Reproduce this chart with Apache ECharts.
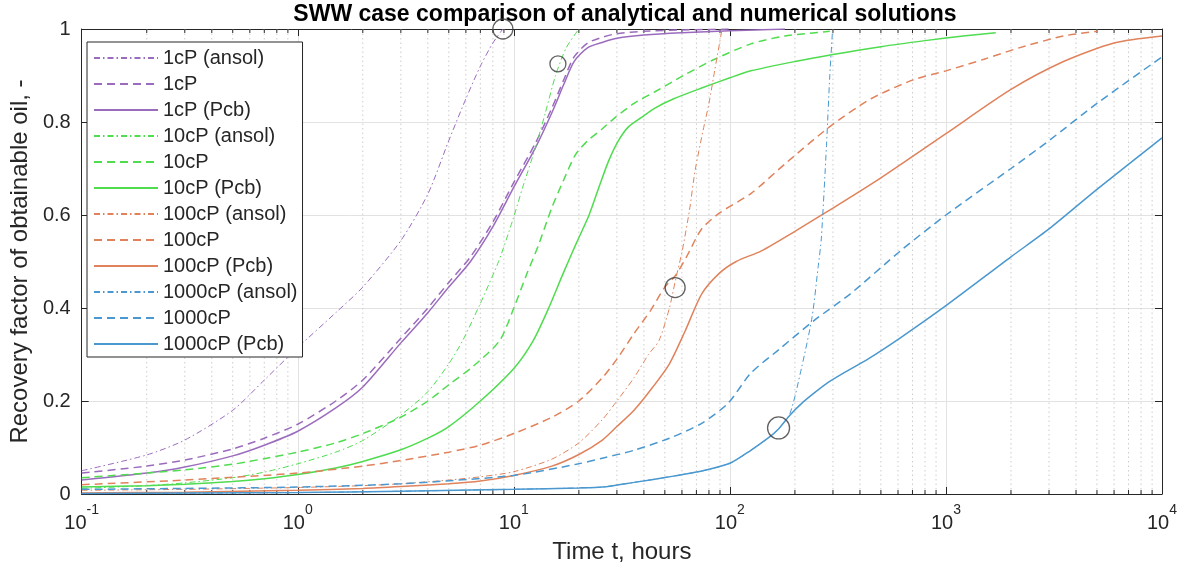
<!DOCTYPE html>
<html><head><meta charset="utf-8">
<script src="https://cdn.jsdelivr.net/npm/echarts@6/dist/echarts.min.js"></script>
<style>html,body{margin:0;padding:0;background:#fff}#c{width:1187px;height:571px}</style>
</head><body><div id="c"></div>
<script>
// ---- data (time in hours, recovery factor) ----
const t_1cP_ansol = [0.1, 0.2, 0.3, 0.5, 0.7, 1, 1.5, 2, 3, 4, 5, 6, 7, 8, 8.9];
const v_1cP_ansol = [0.05, 0.084, 0.116, 0.18, 0.245, 0.315, 0.39, 0.445, 0.545, 0.645, 0.76, 0.85, 0.92, 0.97, 1.0];
const t_1cP = [0.1, 0.2, 0.3, 0.5, 0.7, 1, 1.5, 2, 3, 4, 5, 6.3, 8, 10, 12.6, 15, 17, 19, 22, 26, 30, 40, 60, 100];
const v_1cP = [0.045, 0.06, 0.073, 0.097, 0.12, 0.15, 0.2, 0.245, 0.335, 0.4, 0.455, 0.51, 0.585, 0.67, 0.755, 0.83, 0.89, 0.94, 0.97, 0.983, 0.99, 0.995, 0.998, 1.0];
const t_1cP_Pcb = [0.1, 0.2, 0.3, 0.5, 0.7, 1, 1.5, 2, 3, 4, 5, 6.3, 8, 10, 12.6, 15, 17, 19, 22, 26, 30, 40, 60, 100, 180];
const v_1cP_Pcb = [0.03, 0.045, 0.058, 0.082, 0.105, 0.135, 0.185, 0.23, 0.325, 0.39, 0.445, 0.5, 0.575, 0.66, 0.745, 0.82, 0.88, 0.93, 0.96, 0.972, 0.98, 0.987, 0.992, 0.996, 1.0];

const t_10cP_ansol = [0.1, 0.2, 0.3, 0.5, 0.7, 1, 1.5, 2, 3, 4, 5, 5.8, 7, 8.5, 9.9, 11, 12.6, 14, 15.6, 17.5, 20];
const v_10cP_ansol = [0.012, 0.018, 0.024, 0.035, 0.047, 0.065, 0.09, 0.115, 0.17, 0.22, 0.28, 0.33, 0.41, 0.5, 0.59, 0.66, 0.745, 0.82, 0.9, 0.96, 1.0];
const t_10cP = [0.1, 0.2, 0.3, 0.5, 0.7, 1, 1.5, 2, 3, 4, 5, 6.5, 8.6, 10, 11.5, 13, 15, 17, 19.3, 22, 25.6, 29.5, 36, 45, 61, 85, 125, 180, 290];
const v_10cP = [0.035, 0.045, 0.052, 0.064, 0.076, 0.09, 0.11, 0.13, 0.165, 0.2, 0.235, 0.275, 0.33, 0.4, 0.474, 0.535, 0.616, 0.675, 0.73, 0.76, 0.785, 0.81, 0.84, 0.865, 0.9, 0.935, 0.968, 0.985, 0.995];
const t_10cP_Pcb = [0.1, 0.2, 0.3, 0.5, 0.7, 1, 1.5, 2, 3, 4, 5, 7, 10, 12.3, 14.5, 16.9, 19.5, 22.3, 25, 27.5, 30.5, 34, 39, 45, 55, 74, 100, 125, 200, 300, 500, 800, 1200, 1700];
const v_10cP_Pcb = [0.015, 0.018, 0.021, 0.027, 0.033, 0.042, 0.056, 0.07, 0.095, 0.12, 0.145, 0.2, 0.27, 0.33, 0.4, 0.474, 0.54, 0.6, 0.665, 0.717, 0.76, 0.79, 0.81, 0.83, 0.85, 0.873, 0.895, 0.91, 0.93, 0.945, 0.962, 0.975, 0.985, 0.992];

const t_100cP_ansol = [0.1, 0.3, 1, 2, 3, 5, 7, 10, 15, 20, 25.7, 30, 36, 42, 47, 52.5, 56, 60, 65, 69, 75, 80, 85, 90, 92];
const v_100cP_ansol = [0.008, 0.01, 0.014, 0.018, 0.022, 0.03, 0.037, 0.048, 0.075, 0.11, 0.16, 0.2, 0.25, 0.3, 0.33, 0.4, 0.46, 0.52, 0.61, 0.695, 0.78, 0.84, 0.91, 0.975, 1.0];
const t_100cP = [0.1, 0.3, 1, 2, 3, 5, 7, 10, 15, 20, 25.7, 30, 36, 43, 50, 56, 63, 74, 90, 125, 180, 290, 450, 700, 1000, 1500, 2200, 3500, 5000];
const v_100cP = [0.02, 0.03, 0.045, 0.06, 0.072, 0.09, 0.105, 0.13, 0.165, 0.2, 0.25, 0.29, 0.345, 0.395, 0.445, 0.47, 0.51, 0.57, 0.605, 0.646, 0.71, 0.79, 0.85, 0.89, 0.91, 0.935, 0.96, 0.985, 0.995];
const t_100cP_Pcb = [0.1, 0.3, 1, 2, 3, 5, 7, 10, 15, 20, 25.7, 30, 36, 44, 52.5, 62, 74, 89, 107, 140, 200, 300, 500, 1000, 2000, 3500, 6000, 10000];
const v_100cP_Pcb = [0.002, 0.004, 0.008, 0.012, 0.016, 0.022, 0.028, 0.04, 0.06, 0.085, 0.116, 0.145, 0.18, 0.23, 0.28, 0.35, 0.43, 0.474, 0.5, 0.523, 0.565, 0.615, 0.68, 0.775, 0.87, 0.93, 0.97, 0.985];

const t_1000cP_ansol = [0.1, 1, 3, 10, 20, 25.7, 36, 52.5, 75, 100, 125, 150, 168, 190, 215, 240, 256, 265, 280, 290, 298];
const v_1000cP_ansol = [0.001, 0.003, 0.006, 0.01, 0.013, 0.015, 0.025, 0.037, 0.05, 0.066, 0.094, 0.12, 0.14, 0.174, 0.273, 0.38, 0.487, 0.55, 0.75, 0.9, 0.99];
const t_1000cP = [0.1, 0.3, 1, 3, 10, 20, 25.7, 36, 52.5, 74, 98, 125, 168, 245, 360, 620, 1000, 2000, 3000, 5000, 10000];
const v_1000cP = [0.01, 0.012, 0.015, 0.022, 0.04, 0.065, 0.077, 0.094, 0.12, 0.152, 0.195, 0.26, 0.31, 0.373, 0.43, 0.524, 0.6, 0.7, 0.76, 0.84, 0.94];
const t_1000cP_Pcb = [0.1, 1, 3, 10, 20, 25.7, 36, 52.5, 75, 100, 125, 150, 168, 190, 215, 250, 285, 350, 435, 620, 1000, 2000, 3000, 5000, 10000];
const v_1000cP_Pcb = [0.001, 0.003, 0.006, 0.01, 0.013, 0.015, 0.025, 0.037, 0.05, 0.066, 0.094, 0.12, 0.14, 0.17, 0.195, 0.22, 0.24, 0.265, 0.29, 0.337, 0.405, 0.51, 0.57, 0.655, 0.766];

// highlighted points (circles)
const circleT = [8.9, 16, 55.8, 168];
const circleV = [1.0, 0.925, 0.444, 0.142];

// minor x ticks (log axis)
const minorTicks = [0.2,0.3,0.4,0.5,0.6,0.7,0.8,0.9, 2,3,4,5,6,7,8,9, 20,30,40,50,60,70,80,90,
  200,300,400,500,600,700,800,900, 2000,3000,4000,5000,6000,7000,8000,9000];

const legendNames = ['1cP (ansol)','1cP','1cP (Pcb)','10cP (ansol)','10cP','10cP (Pcb)',
  '100cP (ansol)','100cP','100cP (Pcb)','1000cP (ansol)','1000cP','1000cP (Pcb)'];

// ---- styles ----
const C_PURPLE = '#9b6cbd', C_GREEN = '#4fdc4f', C_ORANGE = '#e0825b', C_BLUE = '#4a98cf';
const DASHDOT = [6, 3, 1.5, 3], DASHED = [8, 5];
const FONT = '"Liberation Sans", Arial, Helvetica, sans-serif';
const INK = '#262626';
const circleSizes = [20, 16, 20, 22];

function mk(name, t, v, color, type, width) {
  return {
    name, type: 'line', data: t.map((x, i) => [x, v[i]]),
    showSymbol: false, symbol: 'none', smooth: 0.25,
    lineStyle: { color, type, width }, itemStyle: { color },
    silent: true, z: 3, animation: false
  };
}

const series = [
  mk('1cP (ansol)', t_1cP_ansol, v_1cP_ansol, C_PURPLE, DASHDOT, 1),
  mk('1cP', t_1cP, v_1cP, C_PURPLE, DASHED, 1.5),
  mk('1cP (Pcb)', t_1cP_Pcb, v_1cP_Pcb, C_PURPLE, 'solid', 1.5),
  mk('10cP (ansol)', t_10cP_ansol, v_10cP_ansol, C_GREEN, DASHDOT, 1),
  mk('10cP', t_10cP, v_10cP, C_GREEN, DASHED, 1.5),
  mk('10cP (Pcb)', t_10cP_Pcb, v_10cP_Pcb, C_GREEN, 'solid', 1.5),
  mk('100cP (ansol)', t_100cP_ansol, v_100cP_ansol, C_ORANGE, DASHDOT, 1),
  mk('100cP', t_100cP, v_100cP, C_ORANGE, DASHED, 1.5),
  mk('100cP (Pcb)', t_100cP_Pcb, v_100cP_Pcb, C_ORANGE, 'solid', 1.5),
  mk('1000cP (ansol)', t_1000cP_ansol, v_1000cP_ansol, C_BLUE, DASHDOT, 1),
  mk('1000cP', t_1000cP, v_1000cP, C_BLUE, DASHED, 1.5),
  mk('1000cP (Pcb)', t_1000cP_Pcb, v_1000cP_Pcb, C_BLUE, 'solid', 1.5),
  {
    name: 'minor', type: 'custom', silent: true, z: 1, animation: false,
    data: minorTicks.map(x => [x, 0]),
    renderItem(params, api) {
      const x = api.value(0);
      const top = api.coord([x, 1]);
      const bot = api.coord([x, 0]);
      return { type: 'group', children: [
        { type: 'line', shape: { x1: top[0], y1: top[1], x2: bot[0], y2: bot[1] },
          style: { stroke: '#cccccc', lineWidth: 1, lineDash: [1.5, 3] } },
        { type: 'line', shape: { x1: bot[0], y1: bot[1], x2: bot[0], y2: bot[1] - 4 },
          style: { stroke: INK, lineWidth: 1 } },
        { type: 'line', shape: { x1: top[0], y1: top[1], x2: top[0], y2: top[1] + 4 },
          style: { stroke: INK, lineWidth: 1 } }
      ]};
    }
  },
  {
    name: 'marks', type: 'scatter', silent: true, z: 6, clip: false, animation: false,
    symbol: 'circle',
    data: circleT.map((t, i) => ({ value: [t, circleV[i]], symbolSize: circleSizes[i] })),
    itemStyle: { color: 'rgba(0,0,0,0)', borderColor: '#3a3a3a', borderWidth: 1.3 }
  }
];

const logLabel = v => '{b|10}{s|' + Math.round(Math.log10(v)) + '}';

const option = {
  animation: false,
  backgroundColor: '#ffffff',
  title: {
    text: 'SWW case comparison of analytical and numerical solutions',
    left: 620, textAlign: 'center', top: -2,
    textStyle: { fontFamily: FONT, fontWeight: 'bold', fontSize: 23, color: '#000' }
  },
  grid: { left: 77, right: 25, top: 29, bottom: 77 },
  legend: {
    data: legendNames, orient: 'vertical', left: 87, top: 42,
    itemWidth: 64, itemHeight: 14, itemGap: 6,
    padding: [6, 5, 3, 6],
    itemStyle: { opacity: 0 },
    backgroundColor: '#ffffff', borderColor: INK, borderWidth: 1, borderRadius: 0,
    textStyle: { fontFamily: FONT, fontSize: 20, color: INK },
    selectedMode: false
  },
  xAxis: [
    {
      type: 'log', logBase: 10, min: 0.1, max: 10000, position: 'bottom',
      axisLine: { show: true, onZero: false, lineStyle: { color: INK, width: 1 } },
      axisTick: { show: true, inside: true, length: 7, lineStyle: { color: INK } },
      axisLabel: {
        formatter: logLabel, margin: 9, color: INK,
        rich: {
          b: { fontFamily: FONT, fontSize: 20, color: INK, verticalAlign: 'bottom', lineHeight: 30 },
          s: { fontFamily: FONT, fontSize: 14, color: INK, verticalAlign: 'top', lineHeight: 14 }
        }
      },
      splitLine: { show: true, lineStyle: { color: '#e2e2e2', width: 1 } },
      name: 'Time t, hours', nameLocation: 'middle', nameGap: 46,
      nameTextStyle: { fontFamily: FONT, fontSize: 24, color: INK }
    },
    {
      type: 'log', logBase: 10, min: 0.1, max: 10000, position: 'top',
      axisLine: { show: true, onZero: false, lineStyle: { color: INK, width: 1 } },
      axisTick: { show: true, inside: true, length: 7, lineStyle: { color: INK } },
      axisLabel: { show: false }, splitLine: { show: false }
    }
  ],
  yAxis: [
    {
      type: 'value', min: 0, max: 1, interval: 0.2, position: 'left',
      axisLine: { show: true, onZero: false, lineStyle: { color: INK, width: 1 } },
      axisTick: { show: true, inside: true, length: 7, lineStyle: { color: INK } },
      axisLabel: { fontFamily: FONT, fontSize: 20, color: INK, margin: 11 },
      splitLine: { show: true, lineStyle: { color: '#e2e2e2', width: 1 } },
      name: 'Recovery factor of obtainable oil, -', nameLocation: 'middle', nameGap: 45,
      nameTextStyle: { fontFamily: FONT, fontSize: 24, color: INK }
    },
    {
      type: 'value', min: 0, max: 1, interval: 0.2, position: 'right',
      axisLine: { show: true, onZero: false, lineStyle: { color: INK, width: 1 } },
      axisTick: { show: true, inside: true, length: 7, lineStyle: { color: INK } },
      axisLabel: { show: false }, splitLine: { show: false }
    }
  ],
  series
};

const chart = echarts.init(document.getElementById('c'), null, { renderer: 'canvas' });
chart.setOption(option);
</script>
</body></html>
